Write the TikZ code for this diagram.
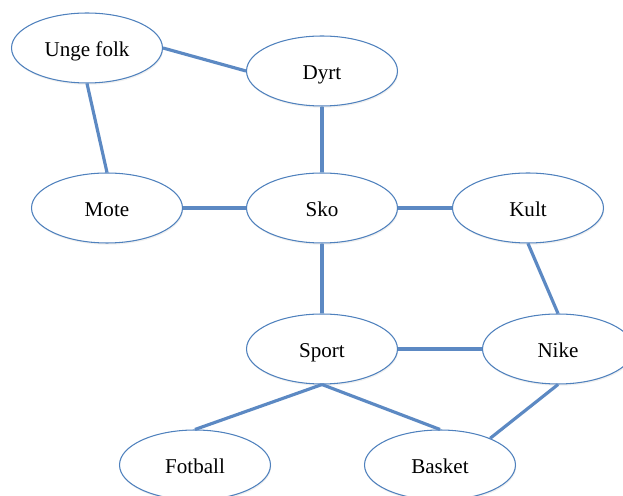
\documentclass[tikz,border=0pt]{standalone}
\usepackage{fontspec}
\setmainfont{Liberation Serif}
\usepackage{tikz}
\usetikzlibrary{shapes.geometric, shadows}
\usepackage{xcolor}
\definecolor{cLine}{RGB}{79,129,189}
\definecolor{cLink}{RGB}{92,137,195}
\tikzset{
  wordnode/.style={ellipse, draw=cLine, line width=0.6pt, fill=white,
                   minimum width=3.02cm, minimum height=1.4cm, inner sep=0pt,
                   font=\fontsize{12}{14}\selectfont,
                   text height=2.1ex, text depth=0ex,
                   drop shadow={opacity=0.12, shadow xshift=0.4pt, shadow yshift=-1pt}},
  link/.style={line width=1.8pt, color=cLink}
}
\begin{document}
\begin{tikzpicture}[x=0.02cm, y=-0.02cm]

  \useasboundingbox (0,0) rectangle (623,496);

  \node[wordnode] (unge)    at (87,48)   {Unge folk};
  \node[wordnode] (dyrt)    at (322,71)  {Dyrt};
  \node[wordnode] (mote)    at (107,208) {Mote};
  \node[wordnode] (sko)     at (322,208) {Sko};
  \node[wordnode] (kult)    at (528,208) {Kult};
  \node[wordnode] (sport)   at (322,349) {Sport};
  \node[wordnode] (nike)    at (558,349) {Nike};
  \node[wordnode] (fotball) at (195,465) {Fotball};
  \node[wordnode] (basket)  at (440,465) {Basket};

  \draw[link] (unge.east) -- (dyrt.west);
  \draw[link] (unge.south) -- (mote.north);
  \draw[link] (dyrt.south) -- (sko.north);
  \draw[link] (mote.east) -- (sko.west);
  \draw[link] (sko.east) -- (kult.west);
  \draw[link] (kult.south) -- (nike.north);
  \draw[link] (sko.south) -- (sport.north);
  \draw[link] (sport.east) -- (nike.west);
  \draw[link] (sport.south) -- (fotball.north);
  \draw[link] (sport.south) -- (basket.north);
  \draw[link] (nike.south) -- (basket.28);

\end{tikzpicture}
\end{document}
